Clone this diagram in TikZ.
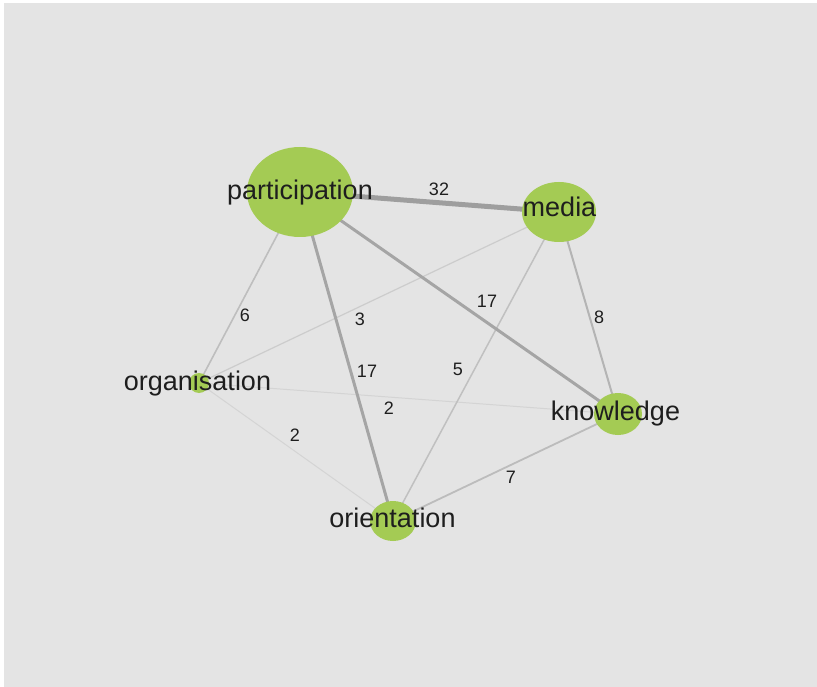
\documentclass[tikz,border=0pt]{standalone}
\usepackage{fontspec}
\setmainfont{Liberation Sans}
\definecolor{bg}{RGB}{228,228,228}
\definecolor{nodegreen}{RGB}{164,203,84}
\definecolor{txt}{RGB}{30,30,30}
\begin{document}
\begin{tikzpicture}[x=1pt,y=-1pt,
  edge/.style={line cap=round},
  blob/.style={fill=nodegreen},
  nlabel/.style={anchor=base,text=txt,font=\fontsize{27}{30}\selectfont,inner sep=0pt},
  elabel/.style={text=txt,font=\fontsize{18}{20}\selectfont,inner sep=0pt}]
\useasboundingbox (0,0) rectangle (817,687);
\fill[white] (0,0) rectangle (817,687);
\fill[bg] (4,3) rectangle (817,687);
% centres
\coordinate (p) at (300,192);
\coordinate (m) at (559,212);
\coordinate (g) at (199,383);
\coordinate (k) at (618,414);
\coordinate (o) at (393,521);
% edges
\draw[edge,line width=1pt,color={rgb,255:red,212;green,212;blue,212}] (g) -- (k);
\draw[edge,line width=1pt,color={rgb,255:red,212;green,212;blue,212}] (g) -- (o);
\draw[edge,line width=1.2pt,color={rgb,255:red,204;green,204;blue,204}] (m) -- (g);
\draw[edge,line width=1.5pt,color={rgb,255:red,192;green,192;blue,192}] (m) -- (o);
\draw[edge,line width=1.6pt,color={rgb,255:red,190;green,190;blue,190}] (p) -- (g);
\draw[edge,line width=1.8pt,color={rgb,255:red,188;green,188;blue,188}] (k) -- (o);
\draw[edge,line width=2pt,color={rgb,255:red,180;green,180;blue,180}] (m) -- (k);
\draw[edge,line width=3pt,color={rgb,255:red,165;green,165;blue,165}] (p) -- (o);
\draw[edge,line width=3pt,color={rgb,255:red,165;green,165;blue,165}] (p) -- (k);
\draw[edge,line width=5pt,color={rgb,255:red,158;green,158;blue,158}] (p) -- (m);
% nodes
\fill[blob] (p) ellipse [x radius=53, y radius=45];
\fill[blob] (m) ellipse [x radius=37, y radius=30];
\fill[blob] (g) circle [radius=10];
\fill[blob] (k) ellipse [x radius=24, y radius=21];
\fill[blob] (o) ellipse [x radius=23, y radius=20];
% node labels
\node[nlabel] (pl) at (300,200) {participation};
\node[nlabel] (ml) at (559.5,217) {media};
\node[nlabel] (gl) at (197.5,390) {organisation};
\node[nlabel] (kl) at (615.5,420) {knowledge};
\node[nlabel] (ol) at (392.5,527) {orientation};
% edge labels
\node[elabel] (l1) at (439,189) {32};
\node[elabel] (l2) at (245,315) {6};
\node[elabel] (l3) at (360,319) {3};
\node[elabel] (l4) at (367,371) {17};
\node[elabel] (l5) at (487,301) {17};
\node[elabel] (l6) at (599,317) {8};
\node[elabel] (l7) at (458,369) {5};
\node[elabel] (l8) at (389,408) {2};
\node[elabel] (l9) at (295,435) {2};
\node[elabel] (l10) at (511,477) {7};
\end{tikzpicture}
\end{document}
